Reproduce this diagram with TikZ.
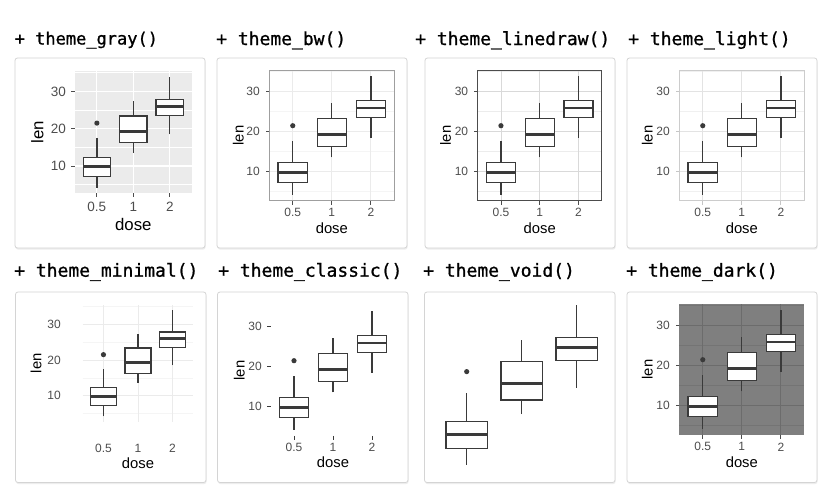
\documentclass[tikz,border=0pt]{standalone}
\usepackage{fontspec}
\setmainfont{Liberation Sans}
\newfontfamily\codefont[FakeBold=0.9]{DejaVu Sans Mono}
\usetikzlibrary{shadows}

\definecolor{boxline}{HTML}{3A3A3A}
\definecolor{ticktext}{HTML}{4D4D4D}
\definecolor{ggpanel}{HTML}{EBEBEB}
\definecolor{darkpanel}{HTML}{7F7F7F}
\definecolor{darkgrid}{HTML}{6C6C6C}
\definecolor{cardedge}{HTML}{D4D4D4}

\newcommand{\ticksz}{12}
\newcommand{\titlesz}{14.8}

% len by dose: position/min/Q1/median/Q3/max
\newcommand{\doseboxes}{%
  \foreach \c/\lo/\qa/\md/\qb/\hi in {1/4.2/7.225/9.85/12.25/17.6,
      2/13.6/16.25/19.25/23.375/27.3, 3/18.5/23.525/25.95/27.825/33.9}{
    \draw[whisker] (\c,\lo) -- (\c,\qa) (\c,\qb) -- (\c,\hi);
    \filldraw[whisker, fill=white] (\c-0.375,\qa) rectangle (\c+0.375,\qb);
    \draw[median] (\c-0.375,\md) -- (\c+0.375,\md);
  }
  \fill[boxline] (1,21.5) circle (2.6pt);
}
\newcommand{\dosegrid}[2]{%
  \foreach \v in {5,15,25,35} \draw[#2] (0.4,\v) -- (3.6,\v);
  \foreach \v in {10,20,30} \draw[#1] (0.4,\v) -- (3.6,\v);
  \foreach \c in {1,2,3} \draw[#1] (\c,2.715) -- (\c,35.385);
}
\newcommand{\doseticks}[1]{%
  \foreach \c in {1,2,3} \draw[#1] (\c,2.715) -- ++(0pt,-3.8pt);
  \foreach \v in {10,20,30} \draw[#1] (0.4,\v) -- ++(-3.8pt,0pt);
}
% #1 name, #2 drop of x labels, #3 drop of dose, #4 gap of y labels, #5 gap of len
\newcommand{\doselabels}[5]{%
  \foreach \c/\lab in {1/0.5, 2/1, 3/2}
    \node[ticklabel, yshift=-#2pt] (#1-x\c) at (\c,2.715) {\lab};
  \foreach \v in {10,20,30}
    \node[ticklabel, anchor=east, xshift=-#4pt] (#1-y\v) at (0.4,\v) {\v};
  \node[axistitle, yshift=-#3pt] (#1-dose) at (2,2.715) {dose};
  \node[axistitle, xshift=-#5pt, rotate=90] (#1-len) at (0.4,19.05) {len};
}

\begin{document}
\begin{tikzpicture}[x=1pt, y=-1pt,
  card/.style={fill=white, draw=cardedge, line width=0.8pt, rounded corners=2.5pt,
    drop shadow={shadow xshift=0.6pt, shadow yshift=-1.6pt, opacity=0.14}},
  title/.style={anchor=base west, inner sep=0pt, font=\codefont\fontsize{18}{18}\selectfont},
  whisker/.style={draw=boxline, line width=1.3pt},
  median/.style={draw=boxline, line width=2.7pt},
  ticklabel/.style={inner sep=0pt, text=ticktext, font=\fontsize{\ticksz}{\ticksz}\selectfont},
  axistitle/.style={inner sep=0pt, font=\fontsize{\titlesz}{\titlesz}\selectfont}]
\fill[white] (0,0) rectangle (839,499);
\useasboundingbox (0,0) rectangle (839,499);

% theme_gray
\filldraw[card] (15,58) rectangle (205,248);
\node[title, font=\codefont\fontsize{17}{17}\selectfont] (t-gray) at (14.5,44.5) {+ theme\_gray()};
\begin{scope}[shift={(60.4,203.3)}, x=36.47pt, y=3.73pt]
  \renewcommand{\ticksz}{13.5}\renewcommand{\titlesz}{16.8}
  \fill[ggpanel] (0.4,2.715) rectangle (3.6,35.385);
  \dosegrid{draw=white, line width=1.1pt}{draw=white, line width=0.55pt}
  \doseticks{draw=ticktext, line width=0.9pt}
  \doseboxes
  \doselabels{gray}{13.5}{31.5}{9}{37.7}
\end{scope}

% theme_bw
\filldraw[card] (217,58) rectangle (407,248);
\node[title] (t-bw) at (216,45) {+ theme\_bw()};
\begin{scope}[shift={(253.7,211.7)}, x=39.06pt, y=4pt]
  \dosegrid{draw=ggpanel, line width=1pt}{draw=ggpanel!50, line width=0.6pt}
  \draw[draw=gray!75, line width=1.2pt] (0.4,2.715) rectangle (3.6,35.385);
  \doseticks{draw=ticktext, line width=0.9pt}
  \doseboxes
  \doselabels{bw}{11.9}{27.5}{9.3}{31}
\end{scope}

% theme_linedraw
\filldraw[card] (425,58) rectangle (615,248);
\node[title] (t-linedraw) at (415,45) {+ theme\_linedraw()};
\begin{scope}[shift={(462.2,211.7)}, x=38.75pt, y=4pt]
  \dosegrid{draw=gray!30, line width=0.8pt}{draw=gray!15, line width=0.5pt}
  \draw[draw=black!70, line width=1.3pt] (0.4,2.715) rectangle (3.6,35.385);
  \doseticks{draw=black!70, line width=0.9pt}
  \doseboxes
  \doselabels{linedraw}{11.9}{27.5}{9.4}{32}
\end{scope}

% theme_light
\filldraw[card] (627,58) rectangle (817,248);
\node[title] (t-light) at (628,45) {+ theme\_light()};
\begin{scope}[shift={(663.7,211.7)}, x=39.06pt, y=4pt]
  \dosegrid{draw=gray!22, line width=0.8pt}{draw=gray!12, line width=0.5pt}
  \draw[draw=gray!40, line width=1.2pt] (0.4,2.715) rectangle (3.6,35.385);
  \doseticks{draw=gray!45, line width=0.9pt}
  \doseboxes
  \doselabels{light}{11.9}{27.5}{9.3}{32}
\end{scope}

% theme_minimal
\filldraw[card] (15.5,292) rectangle (206,482.5);
\node[title] (t-minimal) at (14,276.7) {+ theme\_minimal()};
\begin{scope}[shift={(68.9,431.4)}, x=34.56pt, y=3.57pt]
  \dosegrid{draw=ggpanel, line width=1pt}{draw=ggpanel!50, line width=0.6pt}
  \doseboxes
  \doselabels{minimal}{26.6}{41.6}{21.7}{46.7}
\end{scope}

% theme_classic
\filldraw[card] (217.5,292) rectangle (408,482.5);
\node[title] (t-classic) at (218,276.7) {+ theme\_classic()};
\begin{scope}[shift={(255,446.7)}, x=39pt, y=4pt]
  \doseticks{draw=boxline, line width=0.9pt}
  \doseboxes
  \doselabels{classic}{11.5}{26.5}{8.6}{31.3}
\end{scope}

% theme_void
\filldraw[card] (424.5,292) rectangle (615,482.5);
\node[title] (t-void) at (423,276.7) {+ theme\_void()};
\begin{scope}[shift={(411.7,487.3)}, x=55pt, y=5.38pt]
  \doseboxes
\end{scope}

% theme_dark
\filldraw[card] (627,292) rectangle (817,482.5);
\node[title] (t-dark) at (626,276.7) {+ theme\_dark()};
\begin{scope}[shift={(663.7,445.7)}, x=39.06pt, y=4pt]
  \fill[darkpanel] (0.4,2.715) rectangle (3.6,35.385);
  \dosegrid{draw=darkgrid, line width=0.9pt}{draw=darkgrid!60!darkpanel, line width=0.5pt}
  \doseticks{draw=ticktext, line width=0.9pt}
  \doseboxes
  \doselabels{dark}{12}{27}{9.3}{32}
\end{scope}
\end{tikzpicture}
\end{document}
